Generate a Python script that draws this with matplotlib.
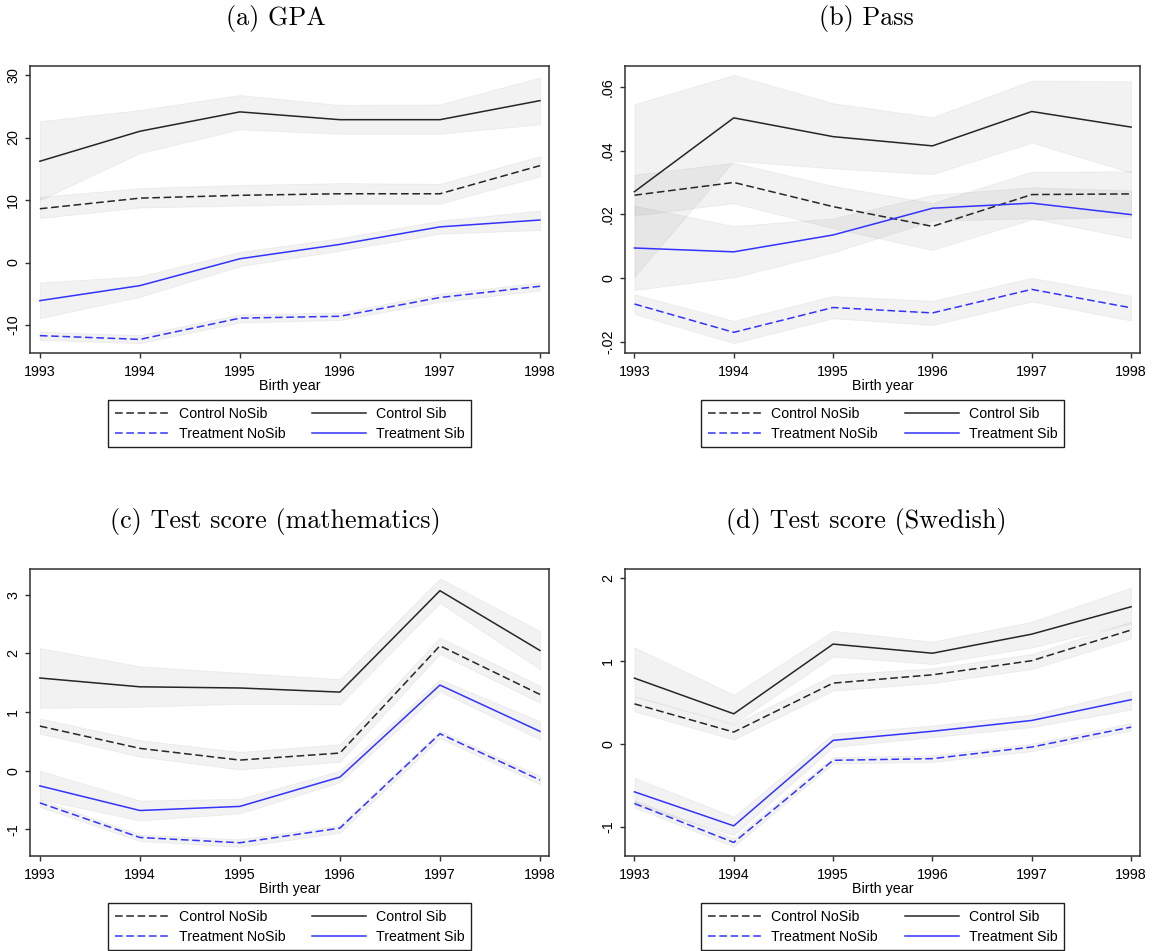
import matplotlib.pyplot as plt

years = [1993, 1994, 1995, 1996, 1997, 1998]

# (a) GPA
gpa_cn = [8.6, 10.3, 10.75, 11.0, 11.0, 15.5]
gpa_cn_lo = [7.1, 8.8, 9.1, 9.4, 9.4, 13.8]
gpa_cn_hi = [10.5, 11.9, 12.4, 12.7, 12.6, 17.0]
gpa_cs = [16.2, 21.0, 24.1, 22.85, 22.85, 25.9]
gpa_cs_lo = [10.0, 17.5, 21.3, 20.6, 20.6, 22.1]
gpa_cs_hi = [22.6, 24.4, 26.8, 25.2, 25.3, 29.6]
gpa_tn = [-11.7, -12.3, -8.9, -8.6, -5.6, -3.8]
gpa_tn_lo = [-12.4, -12.9, -9.6, -9.2, -6.3, -4.5]
gpa_tn_hi = [-11.1, -11.6, -8.3, -8.0, -5.0, -3.2]
gpa_ts = [-6.1, -3.7, 0.6, 2.9, 5.7, 6.8]
gpa_ts_lo = [-8.9, -5.5, -0.6, 1.9, 4.6, 5.2]
gpa_ts_hi = [-3.2, -2.2, 1.7, 3.9, 6.7, 8.3]
gpa_ticks = [-10, 0, 10, 20, 30]
gpa_labels = ["-10", "0", "10", "20", "30"]

# (b) Pass
pass_cn = [0.026, 0.030, 0.0224, 0.0162, 0.0262, 0.0264]
pass_cn_lo = [0.0196, 0.0235, 0.0156, 0.0088, 0.0184, 0.0193]
pass_cn_hi = [0.0324, 0.0362, 0.0289, 0.0235, 0.0334, 0.0335]
pass_cs = [0.0271, 0.0503, 0.0444, 0.0415, 0.0523, 0.0474]
pass_cs_lo = [0.0004, 0.0368, 0.0344, 0.0326, 0.0425, 0.0331]
pass_cs_hi = [0.0546, 0.0638, 0.0549, 0.0505, 0.0620, 0.0618]
pass_tn = [-0.0082, -0.0171, -0.0093, -0.0110, -0.0036, -0.0094]
pass_tn_lo = [-0.0113, -0.0205, -0.0127, -0.0148, -0.0074, -0.0134]
pass_tn_hi = [-0.0051, -0.0135, -0.0057, -0.0072, 0.0000, -0.0056]
pass_ts = [0.0094, 0.0082, 0.0135, 0.0219, 0.0235, 0.0199]
pass_ts_lo = [-0.0038, 0.0002, 0.0080, 0.0180, 0.0187, 0.0125]
pass_ts_hi = [0.0227, 0.0163, 0.0187, 0.0261, 0.0285, 0.0275]
pass_ticks = [-0.02, 0, 0.02, 0.04, 0.06]
pass_labels = ["-.02", "0", ".02", ".04", ".06"]

# (c) Test score (mathematics)
math_cn = [0.76, 0.38, 0.18, 0.30, 2.13, 1.30]
math_cn_lo = [0.63, 0.24, 0.02, 0.15, 1.99, 1.16]
math_cn_hi = [0.89, 0.52, 0.32, 0.45, 2.27, 1.45]
math_cs = [1.58, 1.43, 1.41, 1.34, 3.07, 2.05]
math_cs_lo = [1.07, 1.09, 1.14, 1.13, 2.86, 1.73]
math_cs_hi = [2.09, 1.78, 1.67, 1.56, 3.28, 2.38]
math_tn = [-0.55, -1.14, -1.23, -0.98, 0.63, -0.16]
math_tn_lo = [-0.62, -1.20, -1.30, -1.06, 0.55, -0.23]
math_tn_hi = [-0.49, -1.09, -1.17, -0.93, 0.68, -0.09]
math_ts = [-0.26, -0.68, -0.61, -0.11, 1.46, 0.67]
math_ts_lo = [-0.49, -0.85, -0.73, -0.20, 1.35, 0.53]
math_ts_hi = [0.0, -0.51, -0.48, 0.0, 1.56, 0.84]
math_ticks = [-1, 0, 1, 2, 3]
math_labels = ["-1", "0", "1", "2", "3"]

# (d) Test score (Swedish)
swe_cn = [0.48, 0.14, 0.73, 0.83, 1.00, 1.37]
swe_cn_lo = [0.39, 0.05, 0.64, 0.73, 0.90, 1.27]
swe_cn_hi = [0.57, 0.23, 0.83, 0.91, 1.08, 1.47]
swe_cs = [0.79, 0.36, 1.20, 1.09, 1.32, 1.65]
swe_cs_lo = [0.57, 0.24, 1.05, 0.96, 1.16, 1.45]
swe_cs_hi = [1.16, 0.59, 1.36, 1.23, 1.47, 1.88]
swe_tn = [-0.72, -1.19, -0.20, -0.18, -0.04, 0.20]
swe_tn_lo = [-0.77, -1.24, -0.24, -0.22, -0.09, 0.16]
swe_tn_hi = [-0.68, -1.14, -0.16, -0.14, 0.0, 0.25]
swe_ts = [-0.58, -0.99, 0.04, 0.15, 0.28, 0.53]
swe_ts_lo = [-0.74, -1.10, -0.04, 0.08, 0.20, 0.41]
swe_ts_hi = [-0.41, -0.88, 0.12, 0.22, 0.35, 0.64]
swe_ticks = [-1, 0, 1, 2]
swe_labels = ["-1", "0", "1", "2"]

series_names = ["Control NoSib", "Control Sib", "Treatment NoSib", "Treatment Sib"]

panels = [
    ("(a) GPA", [gpa_cn, gpa_cs, gpa_tn, gpa_ts],
     [gpa_cn_lo, gpa_cs_lo, gpa_tn_lo, gpa_ts_lo],
     [gpa_cn_hi, gpa_cs_hi, gpa_tn_hi, gpa_ts_hi], gpa_ticks, gpa_labels),
    ("(b) Pass", [pass_cn, pass_cs, pass_tn, pass_ts],
     [pass_cn_lo, pass_cs_lo, pass_tn_lo, pass_ts_lo],
     [pass_cn_hi, pass_cs_hi, pass_tn_hi, pass_ts_hi], pass_ticks, pass_labels),
    ("(c) Test score (mathematics)", [math_cn, math_cs, math_tn, math_ts],
     [math_cn_lo, math_cs_lo, math_tn_lo, math_ts_lo],
     [math_cn_hi, math_cs_hi, math_tn_hi, math_ts_hi], math_ticks, math_labels),
    ("(d) Test score (Swedish)", [swe_cn, swe_cs, swe_tn, swe_ts],
     [swe_cn_lo, swe_cs_lo, swe_tn_lo, swe_ts_lo],
     [swe_cn_hi, swe_cs_hi, swe_tn_hi, swe_ts_hi], swe_ticks, swe_labels),
]

# layout (figure fractions) and limits per panel
positions = [[0.0263, 0.6288, 0.4494, 0.3018], [0.5416, 0.6288, 0.4463, 0.3018],
             [0.0263, 0.0999, 0.4494, 0.3018], [0.5416, 0.0999, 0.4463, 0.3018]]
ylims = [(-14.48, 31.44), (-0.0236, 0.0666), (-1.456, 3.44), (-1.353, 2.105)]
title_xy = [(0.239, 0.981), (0.751, 0.981), (0.239, 0.452), (0.751, 0.452)]

colors = ["#262626", "#262626", "#3333ff", "#3333ff"]
dashed = [True, False, True, False]

plt.rcParams['font.family'] = ['Liberation Sans', 'DejaVu Sans']

fig = plt.figure(figsize=(11.54, 9.51), dpi=100)

for p, (title, means, los, his, yt, ytl) in enumerate(panels):
    ax = fig.add_axes(positions[p])

    # confidence bands first, then the lines on top
    for k in range(4):
        ax.fill_between(years, los[k], his[k], facecolor="#808080", edgecolor="#808080",
                        alpha=0.1, linewidth=0.6, zorder=1)
    handles = []
    for k in range(4):
        line, = ax.plot(years, means[k], color=colors[k], lw=1.1, zorder=3,
                        label=series_names[k])
        if dashed[k]:
            line.set_dashes((5, 2.4))
        handles.append(line)

    ax.set_xlim(1992.905, 1998.09)
    ax.set_ylim(ylims[p])
    ax.set_xticks(years)
    ax.set_yticks(yt)
    ax.set_yticklabels(ytl, rotation=90, va="center")
    ax.tick_params(direction="out", length=3.6, width=1, labelsize=10.3, color="#303030")
    ax.tick_params(axis="y", pad=3.6)
    ax.tick_params(axis="x", pad=5.3)
    ax.set_xlabel("Birth year", fontsize=10.3, labelpad=0)
    for s in ax.spines.values():
        s.set_linewidth(1.1)
        s.set_color("#303030")

    # legend order: Control NoSib, Control Sib / Treatment NoSib, Treatment Sib
    leg = ax.legend([handles[0], handles[2], handles[1], handles[3]],
                    [series_names[0], series_names[2], series_names[1], series_names[3]],
                    ncol=2, loc="upper center", bbox_to_anchor=(0.5, -0.164),
                    fontsize=10.2, handlelength=3.8, handletextpad=0.7, columnspacing=1.9,
                    labelspacing=0.4, borderpad=0.48, borderaxespad=0,
                    fancybox=False, framealpha=1, edgecolor="#202020")
    leg.get_frame().set_linewidth(1.0)

    fig.text(title_xy[p][0], title_xy[p][1], title, ha="center", va="center",
             fontsize=18.8, family="cmr10")

plt.savefig("out.png", dpi=100)
